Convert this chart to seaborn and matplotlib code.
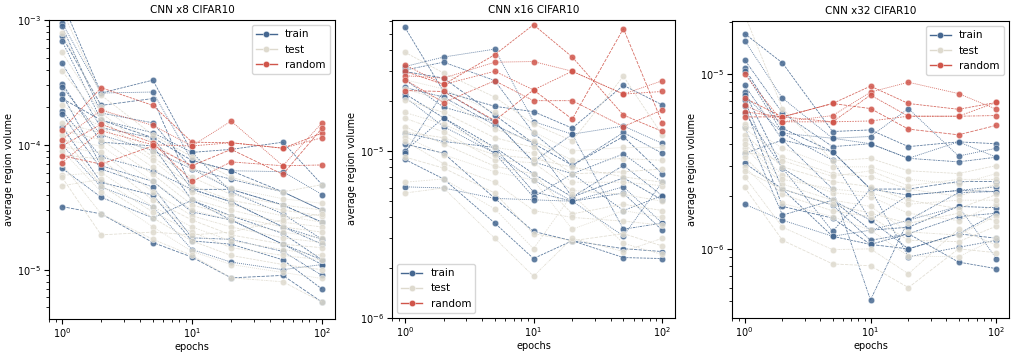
import numpy as np
import pandas as pd
import matplotlib
matplotlib.use("Agg")
import matplotlib.pyplot as plt
from matplotlib.lines import Line2D
import seaborn as sns

EPOCHS = [1, 2, 5, 10, 20, 50, 100]
TITLES = ["CNN x8 CIFAR10", "CNN x16 CIFAR10", "CNN x32 CIFAR10"]
SPLITS = ["train", "test", "random"]
COLORS = {"train": "#456790", "test": "#dedace", "random": "#d0554a"}

# ---- CNN x8 (values in units of 1e-4); rows = epochs, columns = runs ----
UNIT_X8 = 1e-4
train_x8 = [
    [14, 9.5, 8.9, 7.4, 6.8, 4.5, 3.1, 2.9, 2.55, 2.35, 1.87, 1.76, 1.4, 1.0, 0.65, 0.32],
    [2.6, 2.6, 1.8, 2.07, 1.58, 1.37, 1.05, 1.2, 0.68, 1.58, 0.8, 0.64, 0.5, 0.46, 0.38, 0.28],
    [3.3, 2.65, 1.5, 2.35, 1.25, 1.14, 0.98, 0.9, 0.51, 1.14, 0.62, 0.46, 0.396, 0.32, 0.26, 0.165],
    [0.87, 0.75, 0.64, 0.44, 0.87, 0.44, 0.36, 0.64, 0.29, 0.75, 0.44, 0.18, 0.17, 0.145, 0.36, 0.126],
    [0.92, 0.62, 0.53, 0.44, 0.42, 0.35, 0.27, 0.44, 0.25, 0.62, 0.35, 0.175, 0.16, 0.115, 0.25, 0.086],
    [1.05, 0.61, 0.42, 0.33, 0.28, 0.22, 0.195, 0.33, 0.16, 0.42, 0.22, 0.14, 0.12, 0.10, 0.16, 0.09],
    [0.48, 0.40, 0.30, 0.24, 0.175, 0.16, 0.12, 0.24, 0.11, 0.30, 0.175, 0.09, 0.07, 0.11, 0.12, 0.055],
]
test_x8 = [
    [12, 7.9, 5.5, 3.9, 2.07, 1.5, 1.3, 1.1, 0.96, 0.83, 0.57, 0.47, 1.2, 0.9, 0.7, 0.55],
    [2.5, 2.0, 1.8, 1.6, 1.4, 1.25, 1.1, 0.98, 0.87, 0.77, 0.6, 0.53, 0.47, 0.42, 0.28, 0.19],
    [1.2, 1.05, 0.87, 0.8, 0.75, 0.66, 0.58, 0.51, 0.42, 0.36, 0.32, 0.29, 0.26, 0.22, 0.175, 0.2],
    [0.8, 0.65, 0.55, 0.47, 0.42, 0.37, 0.33, 0.30, 0.27, 0.25, 0.22, 0.20, 0.17, 0.14, 0.13, 0.19],
    [0.55, 0.45, 0.40, 0.36, 0.33, 0.30, 0.27, 0.25, 0.22, 0.19, 0.17, 0.15, 0.13, 0.11, 0.086, 0.2],
    [0.42, 0.37, 0.33, 0.30, 0.27, 0.24, 0.22, 0.20, 0.18, 0.16, 0.145, 0.13, 0.11, 0.095, 0.08, 0.25],
    [0.48, 0.34, 0.30, 0.27, 0.24, 0.22, 0.20, 0.18, 0.165, 0.15, 0.13, 0.12, 0.10, 0.085, 0.055, 0.28],
]
random_x8 = [
    [1.32, 1.1, 0.98, 0.82, 0.72],
    [2.87, 1.9, 1.46, 0.70, 1.3],
    [2.07, 1.43, 1.04, 0.98, 1.0],
    [1.05, 0.98, 0.51, 0.68, 0.98],
    [1.04, 1.55, 0.73, 0.92, 1.04],
    [0.94, 0.68, 0.68, 0.58, 0.94],
    [1.24, 1.5, 0.69, 1.36, 1.14],
]

# ---- CNN x16 (values in units of 1e-5) ----
UNIT_X16 = 1e-5
train_x16 = [
    [5.5, 3.2, 3.05, 2.99, 2.67, 2.4, 2.2, 2.1, 1.28, 1.1, 1.0, 0.97, 0.89, 0.61],
    [2.27, 3.65, 3.4, 2.73, 1.83, 2.1, 1.58, 1.4, 1.14, 0.97, 1.58, 2.27, 0.68, 0.6],
    [1.85, 4.07, 2.64, 1.64, 1.5, 1.43, 1.05, 0.97, 1.05, 0.52, 0.97, 1.5, 0.37, 0.52],
    [1.72, 1.5, 1.28, 1.11, 0.86, 1.11, 0.73, 0.67, 0.57, 0.33, 0.53, 0.86, 0.227, 0.51],
    [1.37, 1.26, 0.82, 0.82, 0.73, 0.53, 0.53, 0.5, 0.5, 0.29, 0.73, 1.26, 0.29, 0.5],
    [2.47, 1.41, 1.29, 1.22, 0.96, 0.82, 0.69, 0.61, 0.56, 0.26, 0.44, 0.34, 0.23, 0.31],
    [1.89, 1.11, 0.97, 0.73, 0.65, 0.54, 0.51, 0.37, 0.335, 0.25, 0.54, 0.37, 0.227, 0.65],
]
test_x16 = [
    [3.9, 2.67, 2.35, 2.02, 1.7, 1.57, 1.4, 1.22, 1.15, 0.92, 0.65, 0.56, 1.3],
    [2.93, 2.35, 2.02, 1.7, 1.45, 1.3, 1.1, 0.95, 0.84, 0.79, 0.68, 0.6, 1.2],
    [2.1, 1.7, 1.35, 1.2, 1.05, 0.88, 0.81, 0.75, 0.65, 0.56, 0.45, 0.3, 0.95],
    [1.45, 1.3, 1.15, 1.05, 0.97, 0.85, 0.73, 0.67, 0.44, 0.32, 0.26, 0.178, 0.9],
    [1.15, 1.0, 0.88, 0.73, 0.65, 0.58, 0.42, 0.34, 0.4, 0.29, 0.55, 0.3, 0.8],
    [2.8, 1.05, 0.9, 0.75, 0.65, 0.55, 0.48, 0.44, 0.38, 0.32, 0.28, 0.25, 0.7],
    [1.25, 1.05, 0.88, 0.78, 0.62, 0.5, 0.44, 0.4, 0.36, 0.27, 0.24, 0.3, 0.65],
]
random_x16 = [
    [3.0, 2.82, 2.67, 2.3, 3.28],
    [2.5, 2.73, 1.95, 2.27, 2.5],
    [3.77, 3.4, 2.63, 1.52, 3.0],
    [5.7, 3.43, 2.0, 2.32, 2.32],
    [3.65, 3.0, 2.0, 1.55, 3.0],
    [1.64, 2.19, 1.4, 5.4, 2.19],
    [1.31, 2.63, 1.76, 1.48, 2.27],
]

# ---- CNN x32 (values in units of 1e-6) ----
UNIT_X32 = 1e-6
train_x32 = [
    [17.1, 15.6, 12.1, 10.8, 10.4, 8.65, 7.9, 7.6, 7.1, 6.6, 6.0, 3.52, 3.1, 1.8, 5.0],
    [11.6, 7.3, 6.0, 4.9, 4.6, 4.2, 2.9, 4.6, 2.2, 1.75, 2.9, 4.2, 2.2, 1.46, 1.56],
    [4.7, 4.3, 3.85, 3.6, 3.22, 2.2, 1.9, 4.3, 1.78, 1.5, 1.26, 3.6, 1.18, 1.18, 1.9],
    [4.8, 4.4, 4.0, 2.2, 1.46, 0.51, 1.28, 4.0, 1.12, 1.06, 2.2, 2.2, 1.06, 1.28, 1.46],
    [3.85, 6.36, 3.3, 2.2, 2.03, 1.46, 1.33, 3.3, 1.22, 1.0, 0.9, 2.03, 1.22, 1.46, 1.0],
    [4.1, 3.4, 3.15, 2.43, 2.16, 2.1, 1.75, 4.1, 1.53, 1.22, 1.02, 2.16, 0.84, 1.75, 1.22],
    [4.0, 3.77, 3.35, 2.43, 2.27, 2.13, 1.72, 3.35, 1.6, 1.15, 1.12, 2.13, 0.77, 0.88, 1.6],
]
test_x32 = [
    [22, 5.2, 4.9, 4.5, 4.2, 3.8, 3.35, 2.95, 2.59, 2.25, 4.0, 3.6, 2.8],
    [6.36, 3.77, 3.35, 2.95, 2.65, 2.35, 2.05, 1.82, 1.33, 1.12, 2.5, 3.2, 2.2],
    [3.2, 2.95, 2.7, 2.43, 2.1, 1.9, 1.65, 1.53, 0.99, 0.82, 2.2, 2.6, 1.8],
    [3.3, 2.95, 2.59, 2.27, 1.99, 1.75, 1.53, 1.28, 1.0, 0.8, 2.1, 2.8, 1.6],
    [2.8, 2.5, 2.2, 1.9, 1.6, 1.25, 1.12, 0.91, 0.72, 0.6, 1.8, 2.3, 1.4],
    [2.7, 2.35, 2.0, 1.7, 1.45, 1.2, 1.1, 0.9, 1.3, 1.0, 1.9, 2.5, 1.6],
    [3.0, 2.7, 2.35, 2.05, 1.8, 1.55, 1.35, 1.15, 1.05, 0.95, 1.9, 2.5, 1.45],
]
random_x32 = [
    [7.3, 6.65, 6.1, 5.7, 10.0],
    [5.7, 5.34, 5.7, 5.7, 5.34],
    [6.8, 5.8, 5.34, 6.8, 5.34],
    [8.55, 7.9, 7.6, 6.36, 5.4],
    [6.8, 9.0, 5.75, 4.85, 5.75],
    [6.3, 7.75, 5.75, 4.5, 5.75],
    [6.9, 6.3, 5.8, 5.1, 6.9],
]

PANELS = [
    (UNIT_X8, train_x8, test_x8, random_x8),
    (UNIT_X16, train_x16, test_x16, random_x16),
    (UNIT_X32, train_x32, test_x32, random_x32),
]
YLIMS = [(10 ** -5.395, 1e-3), (1e-6, 10 ** -4.216), (10 ** -6.396, 10 ** -4.695)]
LEGEND_LOC = ["upper right", "lower left", "upper right"]
POSITIONS = [
    [49 / 1024, 1 - 319 / 356, 286 / 1024, 299 / 356],
    [392 / 1024, 1 - 318 / 356, 283 / 1024, 298 / 356],
    [732 / 1024, 1 - 318 / 356, 277 / 1024, 297 / 356],
]
DASHES = [(3, 1.2), (1.2, 1.2), (2.5, 1, 1, 1), (4, 1.5), (1.8, 1.4), (3, 1, 1, 1, 1, 1)]

plt.rcParams["font.family"] = ["DejaVu Sans"]
plt.rcParams["font.size"] = 7

fig, axes = plt.subplots(1, 3, figsize=(10.24, 3.56), dpi=100)

for i, ax in enumerate(axes):
    unit, tr, te, rd = PANELS[i]
    rows = []
    for split, table in zip(SPLITS, (tr, te, rd)):
        for e_idx, ep in enumerate(EPOCHS):
            for r_idx, v in enumerate(table[e_idx]):
                rows.append({"epoch": ep, "volume": v * unit, "split": split,
                             "run": f"{split}-{r_idx}"})
    df = pd.DataFrame(rows)
    for split in SPLITS:
        sub = df[df["split"] == split]
        runs = list(dict.fromkeys(sub["run"]))
        dashes = [DASHES[k % len(DASHES)] for k in range(len(runs))]
        sns.lineplot(data=sub, x="epoch", y="volume", style="run", style_order=runs,
                     dashes=dashes, color=COLORS[split], marker="o", markersize=4.6,
                     markeredgecolor="white", markeredgewidth=0.3, linewidth=0.6,
                     alpha=0.85, estimator=None, legend=False, ax=ax)
    ax.set_xscale("log")
    ax.set_yscale("log")
    ax.set_ylim(*YLIMS[i])
    ax.set_xlim(10 ** -0.1, 10 ** 2.1)
    ax.set_title(TITLES[i], fontsize=7.5, pad=5)
    ax.set_xlabel("epochs", fontsize=7, labelpad=1)
    ax.set_ylabel("average region volume", fontsize=7, labelpad=2)
    ax.tick_params(labelsize=7, pad=2)
    handles = [Line2D([], [], color=COLORS[s], marker="o", markersize=4.6,
                      markeredgecolor="white", markeredgewidth=0.3, linewidth=1.0)
               for s in SPLITS]
    ax.legend(handles, SPLITS, loc=LEGEND_LOC[i], fontsize=7.5, framealpha=0.8)
    ax.set_position(POSITIONS[i])

fig.savefig("out.png", dpi=100)
